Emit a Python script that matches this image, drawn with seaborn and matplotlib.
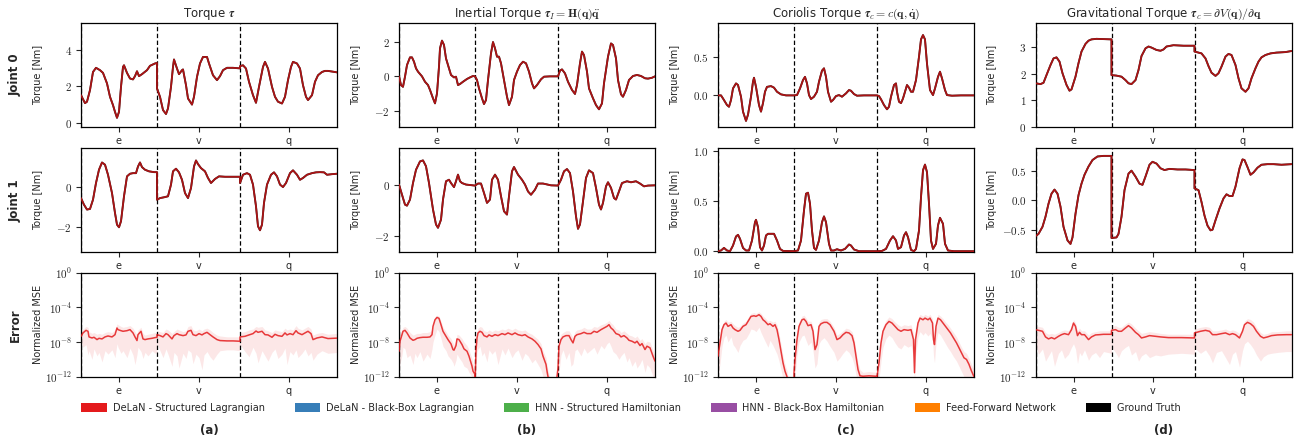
import numpy as np
import pandas as pd
import matplotlib
matplotlib.use("Agg")
import matplotlib.pyplot as plt
import seaborn as sns
from matplotlib.patches import Patch
from matplotlib.ticker import FixedLocator, NullLocator, FixedFormatter
from matplotlib.mathtext import MathTextParser

# ------------------------------------------------------------------ data
segments = ["e", "v", "q"]
segment_edges = [0, 76, 159, 256]

# Joint 0 torques (time index, value in Nm)
tau_j0_t = [0,4,6,9,12,15,19,22,26,29,32,34,36,38,40,42,43,46,49,52,54,56,58,61,66,69,74,76,
            76,79,82,85,87,90,92,93,96,98,101,102,105,107,111,113,116,119,122,126,128,132,136,139,142,146,152,159,
            159,162,165,168,172,175,178,182,184,187,191,194,197,201,204,207,210,212,216,219,222,225,227,231,234,237,241,244,247,256]
tau_j0 = [1.52,1.08,1.16,1.8,2.8,3.03,2.9,2.75,2.17,1.43,0.97,0.6,0.27,0.6,1.98,3.08,3.17,2.75,2.44,2.39,2.57,2.84,2.57,2.68,2.9,3.14,3.27,3.3,
          1.89,1.43,0.7,0.48,0.79,1.98,3.08,3.49,2.99,2.68,2.9,2.94,2.07,1.34,1.0,1.43,2.53,3.27,3.63,3.63,3.27,2.62,2.35,2.57,2.9,3.03,3.03,3.0,
          3.12,3.17,2.99,2.26,1.52,1.1,1.98,3.08,3.36,2.99,1.98,1.43,1.16,1.06,1.43,2.35,3.08,3.36,3.27,2.99,2.07,1.43,1.25,1.52,2.26,2.62,2.8,2.86,2.86,2.78]

inertial_j0_t = [0,2,4,6,8,11,13,15,17,19,23,26,29,31,34,36,38,40,41,43,45,47,50,52,55,57,59,61,64,68,71,74,76,
                 78,80,83,85,87,89,92,94,96,98,100,102,105,108,110,113,115,118,121,124,127,130,133,135,138,142,145,151,159,
                 161,163,166,169,173,176,178,181,183,185,188,190,194,197,200,203,205,209,212,214,217,219,222,224,227,230,234,238,242,246,249,253,256]
inertial_j0 = [0,-0.5,-0.6,-0.02,0.65,1.09,1.09,0.84,0.46,0.27,0.0,-0.31,-0.5,-0.78,-1.26,-1.55,-0.98,0.56,1.61,2.05,1.8,1.03,0.46,0.08,-0.06,-0.02,-0.5,-0.44,-0.31,-0.15,-0.06,0.02,0.0,
               -0.21,-0.69,-1.26,-1.59,-1.36,-0.21,1.32,1.97,1.61,1.13,1.13,0.75,-0.21,-1.17,-1.65,-1.17,-0.21,0.27,0.65,0.84,0.75,0.27,-0.4,-0.69,-0.5,-0.17,-0.02,0.0,0.0,
               0.33,0.4,0.17,-0.31,-0.78,-1.01,-0.5,0.75,1.42,1.22,0.27,-0.69,-1.26,-1.65,-1.89,-1.55,-0.4,1.13,1.89,1.8,1.03,-0.21,-1.03,-1.17,-0.78,-0.21,0.02,0.08,0.02,-0.11,-0.13,-0.08,0.0]

coriolis_j0_t = [0,3,5,9,11,13,15,18,20,23,25,28,30,33,35,36,38,41,43,45,47,49,53,56,59,63,68,76,
                 79,82,85,87,89,91,93,96,99,101,104,106,108,110,113,115,118,121,124,128,131,133,136,139,146,159,
                 161,163,166,169,171,173,176,178,179,181,183,185,188,189,191,193,195,198,201,203,205,207,209,212,215,217,220,222,224,227,229,234,243,256]
coriolis_j0 = [0,0,-0.04,-0.125,-0.147,-0.06,0.09,0.155,0.134,-0.017,-0.21,-0.33,-0.25,-0.017,0.177,0.228,0.11,-0.125,-0.21,-0.10,0.047,0.11,0.12,0.10,0.047,0.013,0,0,
               0.004,0.09,0.198,0.24,0.155,0.004,-0.047,-0.017,0.047,0.177,0.32,0.35,0.24,0.047,-0.082,-0.06,-0.009,0.004,-0.017,0.026,0.069,0.06,0.017,-0.004,0,0,
               -0.009,-0.05,-0.125,-0.18,-0.147,-0.017,0.134,0.155,0.047,-0.082,-0.10,-0.04,0.09,0.134,0.10,0.047,0.047,0.198,0.5,0.724,0.78,0.724,0.41,0.069,0.004,0.09,0.24,0.306,0.22,0.069,0.004,-0.004,0,0]

gravity_j0_t = [0,5,8,11,15,18,21,24,27,31,34,36,40,43,46,50,53,56,61,76,
                76,81,86,90,93,96,100,103,106,110,113,116,121,125,128,131,138,148,159,
                159,163,166,170,173,176,180,183,186,190,193,196,200,203,206,210,213,216,220,223,226,230,235,241,250,256]
gravity_j0 = [1.64,1.61,1.66,1.95,2.33,2.58,2.62,2.46,2.02,1.58,1.36,1.41,1.89,2.40,2.84,3.13,3.25,3.30,3.32,3.30,
              1.95,1.93,1.89,1.76,1.64,1.61,1.76,2.14,2.67,2.96,3.03,2.99,2.90,2.87,2.92,3.03,3.08,3.06,3.06,
              2.84,2.80,2.77,2.58,2.29,2.04,1.92,2.02,2.27,2.65,2.75,2.71,2.33,1.83,1.45,1.32,1.45,1.83,2.21,2.46,2.62,2.71,2.77,2.80,2.82,2.86]

# Joint 1 torques
tau_j1_t = [0,3,6,9,12,15,18,21,24,27,31,34,36,38,40,43,46,49,52,55,57,59,61,64,68,73,76,
            76,79,83,87,90,92,95,98,101,104,107,110,113,115,117,120,124,127,130,134,138,144,151,159,
            159,162,166,169,172,175,177,179,181,183,186,190,193,196,199,202,205,209,212,216,219,222,226,231,235,239,243,246,251,256]
tau_j1 = [-0.55,-0.88,-1.12,-1.09,-0.63,0.2,0.86,1.22,1.11,0.61,-0.3,-1.29,-1.87,-2.0,-1.7,-0.46,0.53,0.66,0.69,0.69,1.02,1.22,0.99,0.86,0.78,0.74,0.74,
          -0.63,-0.55,-0.51,-0.46,0.12,0.78,0.91,0.73,0.36,-0.3,-0.55,-0.05,1.02,1.32,1.14,0.94,0.78,0.45,0.2,0.4,0.53,0.51,0.51,0.51,
          0.2,0.61,0.69,0.61,0.12,-0.96,-1.95,-2.15,-1.87,-0.79,0.12,0.61,0.73,0.53,0.12,0.0,0.2,0.69,0.83,0.61,0.36,0.45,0.61,0.69,0.73,0.74,0.73,0.61,0.64,0.66]

inertial_j1_t = [0,3,6,8,11,14,17,21,24,27,30,34,37,39,42,44,47,50,52,55,57,59,61,63,67,76,
                 79,82,85,88,91,93,96,99,102,105,108,110,113,115,119,123,126,129,132,136,139,144,152,159,
                 162,165,168,171,174,177,179,181,184,187,190,194,197,200,202,204,207,209,212,215,217,220,223,228,232,237,241,245,249,256]
inertial_j1 = [0.03,-0.37,-0.76,-0.8,-0.56,0.09,0.61,0.94,0.98,0.75,0.09,-0.95,-1.54,-1.67,-1.35,-0.56,0.16,0.22,0.09,-0.07,0.16,0.42,0.16,0.09,0.03,-0.01,
               0.07,0.07,-0.3,-0.69,-0.56,0.22,0.42,0.22,-0.43,-1.02,-1.15,-0.43,0.55,0.72,0.42,0.22,0.03,-0.24,-0.37,-0.17,0.07,0.07,0,-0.01,
               0.22,0.55,0.64,0.48,-0.24,-1.22,-1.71,-1.54,-0.63,0.29,0.59,0.48,-0.1,-0.76,-0.95,-0.69,-0.04,0.12,-0.1,-0.5,-0.56,-0.24,0.09,0.16,0.12,0.16,0.07,-0.04,-0.01,0]

coriolis_j1_t = [0,3,6,9,12,15,18,20,22,25,28,31,34,37,38,40,42,44,46,48,50,56,59,62,65,76,
                 80,83,86,88,90,92,94,96,98,101,104,106,108,111,113,116,119,121,123,127,131,133,136,141,159,
                 164,168,172,175,178,180,183,186,188,190,193,196,198,201,203,205,207,209,211,213,215,218,220,222,225,227,230,236,256]
coriolis_j1 = [0,0.007,0.033,0.007,0,0.057,0.147,0.164,0.124,0.033,0.007,0.007,0.107,0.29,0.314,0.24,0.04,0.007,0.057,0.157,0.174,0.174,0.107,0.023,0.003,0,
               0.007,0.107,0.408,0.575,0.585,0.475,0.207,0.033,0.013,0.107,0.29,0.348,0.29,0.074,0.007,0.007,0.02,0.013,0.007,0.023,0.067,0.057,0.017,0,0,
               0.003,0.023,0.107,0.15,0.107,0.023,0.04,0.157,0.19,0.14,0.013,0,0.023,0.207,0.54,0.81,0.866,0.79,0.475,0.107,0.023,0.074,0.258,0.334,0.274,0.074,0.007,0,0]

gravity_j1_t = [0,3,7,10,13,16,19,22,25,28,32,35,37,40,43,46,49,53,57,62,68,76,
                76,81,83,86,89,93,96,100,104,107,110,114,117,121,125,129,134,142,150,159,
                159,163,166,169,172,175,177,180,184,188,191,194,197,200,204,207,209,212,215,218,222,226,232,238,246,256]
gravity_j1 = [-0.61,-0.57,-0.45,-0.28,-0.06,0.11,0.18,0.11,-0.11,-0.45,-0.68,-0.74,-0.63,-0.23,0.085,0.28,0.43,0.57,0.68,0.74,0.75,0.75,
              -0.64,-0.63,-0.57,-0.28,0.17,0.45,0.5,0.4,0.28,0.26,0.4,0.6,0.65,0.62,0.54,0.51,0.53,0.52,0.52,0.51,
              0.2,0.17,-0.03,-0.26,-0.43,-0.51,-0.5,-0.34,-0.14,0.03,0.1,0.07,0.07,0.23,0.54,0.69,0.68,0.56,0.43,0.47,0.55,0.6,0.61,0.61,0.6,0.61]

# Normalized MSE (log10): mean line and spread band
err_tau_t = [0,2,5,7,8,11,13,16,18,21,24,27,31,34,36,37,40,42,46,49,52,54,56,57,60,62,64,67,71,74,76,
             76,79,82,85,87,91,93,96,98,102,105,107,110,112,115,118,121,123,126,129,132,136,139,146,152,159,
             159,164,168,172,175,177,181,184,187,191,194,197,201,204,206,209,212,215,217,221,224,227,230,232,236,241,247,256]
err_tau = [-7.34,-6.95,-6.65,-6.76,-7.41,-7.53,-7.45,-7.72,-7.57,-7.64,-7.41,-7.30,-7.41,-7.15,-6.38,-6.57,-6.69,-6.76,-6.69,-6.57,-6.95,-7.41,-7.83,-7.15,-6.76,-7.64,-7.72,-7.64,-7.57,-7.49,-7.45,
           -7.15,-7.26,-7.41,-7.03,-7.15,-7.64,-7.26,-7.03,-7.15,-7.26,-7.18,-6.76,-6.65,-7.15,-7.26,-7.03,-7.18,-7.03,-6.88,-7.15,-7.41,-7.72,-7.83,-7.87,-7.87,-7.91,
           -7.41,-7.34,-7.18,-7.03,-6.73,-6.88,-6.76,-7.15,-7.18,-7.45,-7.11,-7.26,-7.34,-6.95,-7.18,-7.03,-7.15,-6.69,-6.95,-7.15,-6.95,-6.76,-7.03,-7.72,-7.53,-7.41,-7.60,-7.55]
err_tau_lo = [-8.0,-8.6,-8.3,-9.5,-9.0,-10.0,-8.8,-9.6,-9.2,-10.3,-9.0,-9.4,-8.9,-9.8,-8.2,-8.6,-9.3,-9.0,-9.8,-8.7,-9.5,-10.6,-9.4,-8.6,-9.1,-9.9,-9.2,-9.6,-9.0,-9.3,-9.2,
              -8.2,-9.0,-9.8,-8.8,-9.4,-10.8,-9.2,-9.6,-11.0,-9.3,-9.9,-8.9,-9.2,-10.5,-9.4,-9.8,-11.2,-9.5,-9.1,-9.7,-10.1,-9.4,-9.0,-8.9,-8.9,-9.0,
              -8.3,-9.1,-9.7,-8.6,-9.3,-10.4,-9.0,-9.6,-10.2,-9.2,-8.8,-9.9,-9.4,-8.7,-10.6,-9.1,-9.5,-8.9,-9.8,-9.3,-8.8,-9.6,-9.2,-10.1,-9.4,-9.0,-9.3,-9.2]
err_tau_hi = [-6.8,-6.5,-6.2,-6.3,-6.8,-7.0,-6.9,-7.1,-7.0,-7.1,-6.9,-6.8,-6.9,-6.6,-5.9,-6.0,-6.2,-6.3,-6.2,-6.1,-6.4,-6.8,-7.2,-6.6,-6.3,-7.0,-7.2,-7.1,-7.0,-6.9,-6.9,
              -6.7,-6.8,-6.9,-6.5,-6.6,-7.0,-6.8,-6.5,-6.6,-6.8,-6.7,-6.2,-6.1,-6.6,-6.7,-6.5,-6.7,-6.5,-6.4,-6.6,-6.9,-7.2,-7.3,-7.4,-7.4,-7.4,
              -6.9,-6.8,-6.6,-6.5,-6.2,-6.3,-6.2,-6.6,-6.7,-6.9,-6.6,-6.7,-6.8,-6.4,-6.6,-6.5,-6.6,-6.1,-6.4,-6.6,-6.4,-6.2,-6.5,-7.2,-7.0,-6.9,-7.1,-7.0]

err_inertial_t = [0,1,3,4,6,8,11,14,16,18,21,24,28,31,33,34,36,38,40,42,44,47,49,52,54,55,57,58,60,63,65,68,70,73,74,76,
                  76,77,78,79,81,83,85,88,90,93,96,99,103,106,109,113,116,119,123,126,129,133,136,139,142,144,147,148,149,153,157,
                  159,160,162,164,167,170,172,174,176,178,182,185,188,192,195,198,202,205,208,210,212,214,217,220,222,225,228,230,233,236,238,241,243,246,248,251,254,256]
err_inertial = [-9.06,-7.91,-7.15,-6.76,-6.65,-6.95,-7.53,-7.80,-7.72,-7.57,-7.49,-7.45,-7.45,-7.41,-7.15,-6.19,-5.43,-5.16,-5.27,-6.0,-6.76,-7.34,-7.72,-8.22,-8.87,-8.94,-8.41,-7.64,-7.72,-8.29,-8.79,-9.06,-9.63,-10.78,-11.35,-11.73,
                -13,-9.0,-7.53,-6.95,-6.76,-6.88,-7.26,-7.41,-7.18,-7.34,-7.15,-7.26,-7.03,-7.15,-6.95,-7.15,-6.95,-7.15,-7.26,-7.15,-7.41,-7.64,-7.91,-8.29,-8.79,-9.63,-10.58,-11.35,-12.0,-13,-13,
                -11.0,-8.48,-7.72,-7.41,-7.26,-7.26,-7.72,-8.10,-7.34,-7.15,-7.03,-6.88,-7.03,-7.03,-6.76,-6.88,-6.57,-6.38,-6.19,-6.0,-6.38,-6.57,-7.03,-7.15,-7.41,-7.26,-7.53,-7.80,-7.91,-8.10,-7.91,-8.41,-8.18,-8.87,-8.48,-8.67,-9.63,-10.2]
err_inertial_lo = [-12,-10.5,-9.5,-8.6,-8.8,-9.8,-9.5,-10.6,-9.3,-9.8,-9.1,-10.2,-9.4,-9.9,-8.8,-8.0,-7.2,-6.5,-6.8,-7.6,-8.5,-9.0,-9.6,-10.0,-10.4,-10.8,-10.1,-9.4,-9.8,-10.3,-10.8,-11.0,-11.5,-12,-12,-12,
                   -13,-11,-9.2,-8.8,-8.5,-9.6,-9.2,-10.3,-8.9,-9.4,-9.0,-10.6,-8.8,-9.5,-8.7,-9.8,-9.2,-8.9,-10.1,-9.3,-9.6,-10.4,-10.0,-10.6,-11.2,-12,-12.5,-13,-13,-13,-13,
                   -13,-11.5,-9.5,-8.9,-10.0,-9.2,-10.8,-10.5,-9.0,-8.8,-9.6,-8.7,-9.3,-8.9,-8.6,-9.4,-8.4,-8.8,-8.2,-8.0,-8.5,-9.1,-9.4,-10.0,-9.6,-9.2,-10.3,-9.8,-10.8,-10.2,-11.0,-10.5,-10.0,-11.5,-10.6,-11.0,-12,-12]
err_inertial_hi = [-7.5,-7.0,-6.6,-6.3,-6.2,-6.4,-6.9,-7.2,-7.1,-7.0,-7.0,-6.9,-6.9,-6.8,-6.6,-5.8,-5.1,-4.9,-5.0,-5.6,-6.3,-6.8,-7.2,-7.6,-8.1,-8.3,-7.8,-7.1,-7.2,-7.6,-8.0,-8.4,-8.9,-9.9,-10.5,-11.0,
                   -12,-8.0,-6.9,-6.4,-6.2,-6.3,-6.7,-6.8,-6.6,-6.8,-6.6,-6.7,-6.5,-6.6,-6.4,-6.6,-6.4,-6.6,-6.7,-6.6,-6.9,-7.1,-7.4,-7.7,-8.2,-9.0,-9.8,-10.6,-11.3,-13,-13,
                   -9.5,-7.8,-7.1,-6.9,-6.7,-6.7,-7.1,-7.5,-6.8,-6.6,-6.5,-6.3,-6.5,-6.5,-6.2,-6.3,-6.0,-5.9,-5.7,-5.5,-5.8,-6.0,-6.5,-6.6,-6.9,-6.7,-7.0,-7.2,-7.3,-7.5,-7.3,-7.8,-7.6,-8.2,-7.9,-8.0,-9.0,-9.5]

err_coriolis_t = [0,2,4,6,8,10,13,15,17,20,22,25,28,31,33,36,38,41,43,45,47,50,52,55,57,59,61,63,65,67,69,71,76,
                  76,77,79,81,84,86,88,90,93,95,97,99,101,103,106,109,112,116,119,122,125,128,131,134,136,138,140,142,145,151,158,
                  159,161,163,165,168,171,174,177,180,183,186,190,193,195.5,196.5,197.5,200,202,205,207,210,212,214.5,215.5,216.5,218,220,222.5,225,227.5,230,232.5,235.5,238.5,241,243.5,246,248.5,251,253.5,256]
err_coriolis = [-9.63,-8.10,-6.57,-6.0,-5.81,-6.19,-6.0,-6.38,-6.57,-6.76,-6.65,-6.19,-6.0,-5.43,-5.04,-4.97,-5.04,-4.85,-5.04,-5.43,-5.62,-6.0,-5.89,-6.19,-6.0,-6.57,-7.72,-9.06,-10.39,-11.35,-12.0,-13,-13,
                -11.54,-10.01,-7.72,-6.19,-5.43,-5.35,-5.62,-6.11,-6.0,-6.76,-8.87,-8.29,-6.19,-5.89,-5.73,-5.73,-6.0,-6.76,-7.72,-7.53,-7.15,-6.88,-6.95,-7.26,-8.10,-9.63,-11.16,-11.9,-11.95,-11.9,-11.95,
                -12,-10.39,-8.10,-6.76,-6.0,-5.62,-5.81,-6.19,-6.57,-6.76,-6.57,-6.65,-6.57,-7.72,-11.54,-7.72,-5.81,-5.24,-5.43,-5.24,-5.43,-5.24,-5.81,-7.72,-8.29,-6.19,-5.24,-5.43,-5.81,-6.19,-6.57,-6.95,-7.53,-8.10,-8.67,-9.25,-9.82,-10.01,-10.58,-11.35,-12]
err_coriolis_lo = [-12,-10.5,-8.5,-7.5,-7.2,-8.0,-7.4,-8.3,-8.6,-9.2,-8.4,-7.8,-7.6,-7.0,-6.5,-6.6,-6.8,-6.3,-6.9,-7.4,-7.9,-8.6,-7.8,-8.4,-8.9,-9.4,-10.2,-11.2,-12.3,-13,-13,-13,-13,
                   -13,-12,-9.5,-8.0,-7.3,-7.2,-7.8,-8.4,-8.0,-9.0,-11,-10.5,-8.2,-7.8,-7.5,-7.9,-8.5,-9.2,-10.2,-9.8,-9.3,-8.9,-9.2,-9.8,-10.6,-11.8,-13,-13,-13,-13,-13,
                   -13,-12.3,-10.2,-8.6,-7.6,-7.2,-7.5,-8.1,-8.6,-8.8,-8.3,-8.6,-8.4,-9.8,-13,-9.6,-7.4,-6.8,-7.2,-6.9,-7.3,-7.0,-7.6,-9.6,-10.4,-8.0,-6.9,-7.2,-7.7,-8.2,-8.7,-9.1,-9.7,-10.2,-10.8,-11.4,-12,-12.2,-12.6,-13,-13]
err_coriolis_hi = [-8.8,-7.5,-6.1,-5.6,-5.4,-5.7,-5.6,-5.9,-6.1,-6.3,-6.2,-5.8,-5.6,-5.0,-4.7,-4.6,-4.7,-4.5,-4.7,-5.0,-5.2,-5.6,-5.5,-5.7,-5.6,-6.0,-7.0,-8.3,-9.6,-10.6,-11.3,-12.5,-13,
                   -10.8,-9.3,-7.1,-5.7,-5.0,-4.9,-5.2,-5.6,-5.6,-6.2,-8.0,-7.6,-5.7,-5.4,-5.3,-5.3,-5.6,-6.3,-7.2,-7.0,-6.7,-6.4,-6.5,-6.8,-7.5,-9.0,-10.4,-11.2,-11.5,-11.4,-11.5,
                   -11.5,-9.8,-7.5,-6.2,-5.5,-5.1,-5.3,-5.7,-6.0,-6.2,-6.0,-6.1,-6.0,-7.0,-10.5,-7.0,-5.3,-4.8,-5.0,-4.8,-5.0,-4.8,-5.3,-7.0,-7.6,-5.7,-4.8,-5.0,-5.3,-5.7,-6.0,-6.4,-6.9,-7.4,-8.0,-8.6,-9.1,-9.3,-9.9,-10.6,-11.2]

err_gravity_t = [0,3,7,10,13,16,19,23,26,29,33,36,38,40,42,44,46,49,53,56,60,64,68,76,
                 76,80,83,86,90,93,96,100,103,106,110,114,120,125,133,146,159,
                 159,165,170,174,177,181,186,190,194,197,200,204,207,209,212,215,218,221,225,228,232,236,242,251,256]
err_gravity = [-6.57,-6.65,-6.76,-7.41,-7.64,-7.49,-7.64,-7.34,-7.15,-7.03,-7.15,-6.57,-5.81,-6.19,-7.26,-6.88,-7.15,-7.15,-7.72,-7.41,-7.18,-7.15,-7.11,-7.11,
               -6.65,-6.57,-6.76,-6.76,-6.38,-6.11,-6.38,-6.88,-7.15,-7.53,-7.41,-7.26,-7.34,-7.41,-7.49,-7.49,-7.53,
               -6.95,-6.76,-6.65,-6.76,-7.15,-7.15,-7.03,-6.95,-7.15,-7.03,-7.15,-7.53,-6.76,-6.0,-5.73,-5.89,-6.19,-6.76,-7.34,-7.53,-7.41,-7.26,-7.18,-7.15,-7.15]
err_gravity_lo = [-8.2,-9.4,-8.8,-10.2,-9.6,-9.0,-10.8,-9.3,-8.9,-9.9,-9.4,-8.6,-8.2,-8.8,-10.5,-9.2,-9.6,-8.9,-10.1,-9.5,-9.2,-9.8,-9.1,-9.3,
                  -8.6,-9.2,-9.8,-9.0,-8.6,-8.4,-9.5,-9.1,-10.2,-9.6,-9.3,-9.8,-9.5,-9.6,-9.4,-9.3,-9.4,
                  -8.7,-9.3,-8.9,-9.6,-10.4,-9.2,-9.0,-9.8,-10.6,-9.4,-9.1,-10.9,-9.0,-8.2,-7.9,-8.3,-8.8,-9.5,-10.2,-9.7,-9.4,-9.3,-9.2,-9.1,-9.1]
err_gravity_hi = [-6.1,-6.2,-6.3,-6.9,-7.1,-7.0,-7.1,-6.9,-6.7,-6.6,-6.7,-6.1,-5.4,-5.8,-6.7,-6.4,-6.7,-6.7,-7.2,-6.9,-6.8,-6.7,-6.7,-6.7,
                  -6.2,-6.1,-6.3,-6.3,-5.9,-5.7,-5.9,-6.4,-6.7,-7.0,-6.9,-6.8,-6.9,-7.0,-7.1,-7.1,-7.1,
                  -6.5,-6.3,-6.2,-6.3,-6.7,-6.7,-6.6,-6.5,-6.7,-6.6,-6.7,-7.0,-6.3,-5.6,-5.3,-5.4,-5.7,-6.3,-6.9,-7.1,-7.0,-6.8,-6.8,-6.7,-6.7]

legend_labels = ["DeLaN - Structured Lagrangian", "DeLaN - Black-Box Lagrangian",
                 "HNN - Structured Hamiltonian", "HNN - Black-Box Hamiltonian",
                 "Feed-Forward Network", "Ground Truth"]
legend_colors = ["#e41a1c", "#377eb8", "#4daf4a", "#984ea3", "#ff7f00", "#000000"]
row_labels = ["Joint 0", "Joint 1", "Error"]
panel_letters = ["(a)", "(b)", "(c)", "(d)"]

# ------------------------------------------------------------------ style
sns.set_style("ticks")
plt.rcParams["font.family"] = ["DejaVu Sans"]
plt.rcParams["mathtext.fontset"] = "cm"


def _ok(s):
    try:
        MathTextParser("path").parse(s)
        return True
    except Exception:
        return False


BS = r"\boldsymbol" if _ok(r"$\boldsymbol{\tau}$") else r"\mathbf"
titles = [
    r"Torque $%s{\tau}$" % BS,
    r"Inertial Torque $%s{\tau}_I = \mathbf{H}(\mathbf{q})\ddot{\mathbf{q}}$" % BS,
    r"Coriolis Torque $%s{\tau}_c = c(\mathbf{q}, \dot{\mathbf{q}})$" % BS,
    r"Gravitational Torque $%s{\tau}_c = \partial V(\mathbf{q}) / \partial \mathbf{q}$" % BS,
]

torque_panels = [
    [(tau_j0_t, tau_j0), (inertial_j0_t, inertial_j0), (coriolis_j0_t, coriolis_j0), (gravity_j0_t, gravity_j0)],
    [(tau_j1_t, tau_j1), (inertial_j1_t, inertial_j1), (coriolis_j1_t, coriolis_j1), (gravity_j1_t, gravity_j1)],
]
torque_ylims = [
    [(-0.22, 5.52), (-2.89, 3.08), (-0.405, 0.94), (0.0, 3.93)],
    [(-3.24, 1.93), (-2.63, 1.46), (-0.01, 1.03), (-0.88, 0.88)],
]
torque_yticks = [
    [[0, 2, 4], [-2, 0, 2], [0.0, 0.5], [0, 1, 2, 3]],
    [[-2, 0], [-2, 0], [0.0, 0.5, 1.0], [-0.5, 0.0, 0.5]],
]
torque_decimals = [[0, 0, 1, 0], [0, 0, 1, 1]]
error_panels = [
    (err_tau_t, err_tau, err_tau_lo, err_tau_hi),
    (err_inertial_t, err_inertial, err_inertial_lo, err_inertial_hi),
    (err_coriolis_t, err_coriolis, err_coriolis_lo, err_coriolis_hi),
    (err_gravity_t, err_gravity, err_gravity_lo, err_gravity_hi),
]

W, H = 1298, 444
fig = plt.figure(figsize=(W / 100, H / 100), dpi=100)
col_left = [81, 399, 718, 1035.5]
row_top = [22.7, 148.2, 272.7]
ax_w, ax_h = 256, 104

seg_centers = [(segment_edges[i] + segment_edges[i + 1]) / 2 for i in range(3)]


def mathfmt(v, d):
    s = f"{v:.{d}f}"
    return f"${s}$"


def style_axis(ax):
    ax.set_xlim(segment_edges[0], segment_edges[-1])
    for e in segment_edges[:3]:
        ax.axvline(e, color="black", ls=(0, (3.5, 2)), lw=0.9, zorder=3)
    ax.set_xticks(seg_centers)
    ax.set_xticklabels(segments, fontsize=7)
    ax.tick_params(axis="both", length=3.5, width=0.8, direction="out", pad=3)
    ax.tick_params(axis="y", labelsize=8)
    for sp in ax.spines.values():
        sp.set_visible(True)
        sp.set_linewidth(0.9)
        sp.set_color("black")
    ax.yaxis.set_label_coords(-0.15, 0.5)


axes = {}
for r in range(3):
    for c in range(4):
        ax = fig.add_axes([col_left[c] / W, 1 - (row_top[r] + ax_h) / H, ax_w / W, ax_h / H])
        axes[(r, c)] = ax
        if r < 2:
            t, y = torque_panels[r][c]
            df = pd.DataFrame({"t": t, "y": y})
            sns.lineplot(data=df, x="t", y="y", ax=ax, estimator=None, sort=False,
                         color="black", lw=1.35, errorbar=None, zorder=4)
            sns.lineplot(data=df, x="t", y="y", ax=ax, estimator=None, sort=False,
                         color="#e41a1c", lw=1.25, alpha=0.75, errorbar=None, zorder=5)
            ax.set_ylim(*torque_ylims[r][c])
            ticks = torque_yticks[r][c]
            ax.yaxis.set_major_locator(FixedLocator(ticks))
            ax.yaxis.set_major_formatter(FixedFormatter([mathfmt(v, torque_decimals[r][c]) for v in ticks]))
            ax.set_ylabel("Torque [Nm]", fontsize=7)
        else:
            t, m, lo, hi = error_panels[c]
            t = np.asarray(t, float)
            ax.fill_between(t, 10.0 ** np.asarray(lo), 10.0 ** np.asarray(hi),
                            color="#e41a1c", alpha=0.1, lw=0, zorder=2)
            df = pd.DataFrame({"t": t, "mse": 10.0 ** np.asarray(m)})
            sns.lineplot(data=df, x="t", y="mse", ax=ax, estimator=None, sort=False,
                         color="#e41a1c", lw=1.1, alpha=0.85, errorbar=None, zorder=4)
            ax.set_yscale("log")
            ax.set_ylim(1e-12, 1e0)
            ax.yaxis.set_major_locator(FixedLocator([1e0, 1e-4, 1e-8, 1e-12]))
            ax.yaxis.set_major_formatter(FixedFormatter(["$10^{0}$", "$10^{-4}$", "$10^{-8}$", "$10^{-12}$"]))
            ax.yaxis.set_minor_locator(NullLocator())
            ax.set_ylabel("Normalized MSE", fontsize=7)
        ax.set_xlabel("")
        style_axis(ax)
        if r == 0:
            ax.set_title(titles[c], fontsize=8.5, pad=4)

for r, lab in enumerate(row_labels):
    yc = 1 - (row_top[r] + ax_h / 2) / H
    fig.text(15 / W, yc, lab, rotation=90, ha="center", va="center", fontsize=8.5, fontweight="bold")

handles = [Patch(facecolor=col, edgecolor="none") for col in legend_colors]
fig.legend(handles, legend_labels, loc="center", bbox_to_anchor=(631 / W, 1 - 408 / H), ncol=6,
           frameon=False, fontsize=7, handlelength=2.6, handleheight=1.0, handletextpad=0.6,
           columnspacing=3.1)

for c, lab in enumerate(panel_letters):
    fig.text((col_left[c] + ax_w / 2) / W, 1 - 430 / H, lab, ha="center", va="center",
             fontsize=8.5, fontweight="bold")

fig.savefig("out.png", dpi=100)
